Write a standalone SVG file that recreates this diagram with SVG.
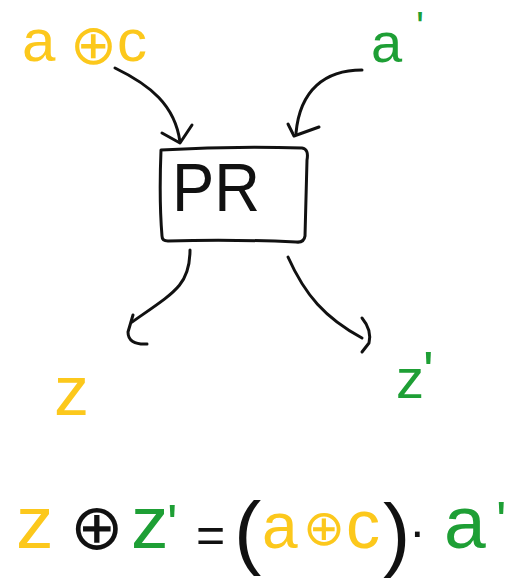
<svg xmlns="http://www.w3.org/2000/svg" width="507" height="582" viewBox="0 0 507 582">
<style>
.ln{fill:none;stroke:#111;stroke-width:3;stroke-linecap:round;stroke-linejoin:round}
.t{font-family:"Liberation Sans","DejaVu Sans",sans-serif}
.op{font-family:"DejaVu Sans","Liberation Sans",sans-serif}
.y{fill:#fcc81c}
.g{fill:#1e9f35}
.k{fill:#111}
</style>
<rect width="507" height="582" fill="#fff"/>
<g id="in-aoc">
<text class="t y" font-size="60" y="61"><tspan x="22">a</tspan><tspan class="op" x="70" y="64" font-size="56">⊕</tspan><tspan x="117" y="61">c</tspan></text>
</g>
<g id="in-a1">
<text class="t g" font-size="56"><tspan x="371" y="62">a</tspan><tspan x="416" y="41" font-size="42">'</tspan></text>
</g>
<g id="pr">
<path class="ln" d="M161,150 Q230,146 302,148 Q309,149 307,160 L305,236 Q304,243 296,242 Q230,239 168,241 Q162,241 162,236 Q159,200 161,150 Z"/>
<text class="t k" x="172" y="211" font-size="68" textLength="88" lengthAdjust="spacingAndGlyphs">PR</text>
</g>
<g id="out-z">
<text class="t y" x="54" y="415" font-size="70">z</text>
</g>
<g id="out-z1">
<text class="t g" font-size="56"><tspan x="396" y="398">z</tspan><tspan x="423" y="390">'</tspan></text>
</g>
<g id="equation">
<text class="t" font-size="75"><tspan class="y" x="16" y="548">z</tspan><tspan class="op k" x="70" y="549" font-size="64">⊕</tspan><tspan class="g" x="131" y="548">z</tspan><tspan class="g" x="167" y="543" font-size="55">'</tspan><tspan class="k" x="196" y="552" font-size="50">=</tspan><tspan class="k" x="234" y="559" font-size="82">(</tspan><tspan class="y" x="262" y="548" font-size="64">a</tspan><tspan class="op y" x="303" y="545" font-size="50">⊕</tspan><tspan class="y" x="346" y="548" font-size="68">c</tspan><tspan class="k" x="383" y="561" font-size="82">)</tspan><tspan class="k" x="409" y="548" font-size="50">·</tspan><tspan class="g" x="444" y="548">a</tspan><tspan class="g" x="496" y="540" font-size="55">'</tspan></text>
</g>
<g id="connectors">
<path class="ln" d="M115,68 C150,85 175,105 180,142"/>
<path class="ln" d="M162,133 L180,143 L192,125"/>
<path class="ln" d="M362,70 C325,70 300,90 296,133"/>
<path class="ln" d="M288,124 L294,136 L319,127"/>
<path class="ln" d="M190,250 C190,285 175,292 132,322"/>
<path class="ln" d="M133,315 L128,332 Q128,345 147,344"/>
<path class="ln" d="M288,257 C305,295 325,318 362,338"/>
<path class="ln" d="M362,318 Q372,330 369,343 L362,352"/>
</g>
</svg>
